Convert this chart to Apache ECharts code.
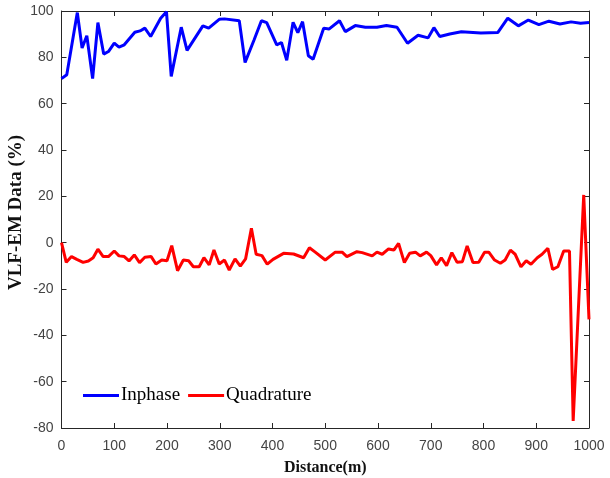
<!DOCTYPE html>
<html>
<head>
<meta charset="utf-8">
<script src="https://cdn.jsdelivr.net/npm/echarts@6/dist/echarts.min.js"></script>
<style>
  html, body { margin: 0; padding: 0; background: #fff; }
  #chart { width: 610px; height: 478px; }
</style>
</head>
<body>
<div id="chart"></div>
<script>
// VLF-EM survey profile: inphase and quadrature components along the line
const inphaseDist = [0, 10, 30, 39, 48, 59, 69, 80, 89, 100, 109, 119, 139, 149, 158, 169, 188, 199, 208, 227,
  238, 268, 279, 299, 309, 337, 348, 365, 379, 389, 408, 417, 427, 439, 448, 457, 468, 477, 497, 507,
  527, 538, 557, 576, 598, 616, 636, 656, 676, 695, 706, 717, 736, 758, 795, 827, 846, 866, 885, 905,
  924, 945, 966, 984, 1000];
const inphaseVal = [70.8, 72.5, 99.3, 84.0, 89.3, 70.8, 95.0, 81.4, 82.5, 86.1, 84.4, 85.4, 90.8, 91.4, 92.6, 89.0, 96.9, 99.7, 71.8, 93.0,
  83.0, 93.6, 92.6, 96.4, 96.6, 95.8, 77.8, 87.5, 95.8, 95.0, 85.4, 86.4, 78.7, 95.1, 90.7, 95.4, 80.7, 79.2, 92.6, 92.2,
  95.8, 91.1, 93.7, 93.0, 93.0, 93.7, 93.0, 86.1, 89.5, 88.4, 92.8, 89.0, 90.1, 91.0, 90.5, 90.7, 96.9, 93.6, 96.1, 94.1,
  95.6, 94.4, 95.3, 94.7, 95.0];

const quadDist = [0, 9, 19, 29, 41, 51, 60, 69, 79, 89, 100, 109, 119, 128, 138, 148, 158, 170, 179, 190,
  200, 209, 220, 231, 241, 250, 261, 270, 280, 289, 299, 309, 318, 329, 339, 349, 360, 369, 380, 390,
  401, 421, 440, 459, 470, 481, 500, 519, 532, 541, 560, 570, 589, 598, 608, 620, 630, 639, 650, 660,
  671, 680, 692, 700, 711, 720, 730, 740, 750, 760, 769, 780, 791, 802, 810, 821, 832, 841, 851, 860,
  871, 881, 890, 902, 911, 922, 931, 941, 952, 963, 970, 990, 1000];
const quadVal = [0.0, -8.5, -6.0, -7.2, -8.5, -7.9, -6.5, -2.8, -6.0, -6.0, -3.6, -5.7, -6.0, -7.9, -5.3, -8.6, -6.3, -6.0, -9.2, -7.5,
  -7.8, -1.3, -12.1, -7.5, -7.8, -10.4, -10.4, -6.5, -9.6, -3.2, -9.2, -7.5, -11.8, -7.0, -10.1, -7.0, 6.2, -5.0, -5.6, -9.3,
  -7.2, -4.6, -4.9, -6.5, -2.2, -4.1, -7.5, -4.1, -4.1, -6.0, -3.9, -4.3, -5.7, -4.1, -5.0, -2.7, -3.2, -0.3, -8.6, -4.6,
  -4.1, -5.7, -4.1, -5.6, -9.6, -6.5, -9.9, -4.3, -8.5, -8.2, -1.4, -8.6, -8.5, -4.1, -4.1, -7.5, -8.9, -7.5, -3.2, -5.0,
  -10.4, -7.8, -9.3, -6.5, -5.0, -2.4, -11.5, -10.4, -3.6, -3.6, -77.0, 20.6, -33.1];

const xTicks = [0, 100, 200, 300, 400, 500, 600, 700, 800, 900, 1000];
const yTicks = [-80, -60, -40, -20, 0, 20, 40, 60, 80, 100];

const pairs = (xs, ys) => xs.map((x, i) => [x, ys[i]]);

const axisColor = '#262626';
const tickFont = { fontFamily: 'Liberation Sans, Arial, sans-serif', fontSize: 14, color: '#444' };
const serif = 'Liberation Serif, Times New Roman, serif';

const baseX = {
  type: 'value', min: 0, max: 1000, interval: 100,
  axisLine: { show: true, onZero: false, lineStyle: { color: axisColor, width: 1 } },
  axisTick: { show: true, inside: true, length: 5, lineStyle: { color: axisColor } },
  splitLine: { show: false }
};
const baseY = {
  type: 'value', min: -80, max: 100, interval: 20,
  axisLine: { show: true, onZero: false, lineStyle: { color: axisColor, width: 1 } },
  axisTick: { show: true, inside: true, length: 5, lineStyle: { color: axisColor } },
  splitLine: { show: false }
};

const chart = echarts.init(document.getElementById('chart'), null, { renderer: 'canvas' });
chart.setOption({
  animation: false,
  backgroundColor: '#fff',
  grid: { left: 61.5, right: 21, top: 11, bottom: 50, containLabel: false, outerBoundsMode: 'none' },
  legend: {
    left: 78, top: 381,
    icon: 'rect', itemWidth: 36, itemHeight: 3, itemGap: 8,
    textStyle: { fontFamily: serif, fontSize: 19, color: '#000', padding: [0, 0, 0, -3] },
    data: ['Inphase', 'Quadrature']
  },
  xAxis: [
    Object.assign({}, baseX, {
      position: 'bottom',
      axisLabel: Object.assign({ margin: 11, formatter: v => xTicks.includes(v) ? String(v) : '' }, tickFont),
      name: 'Distance(m)', nameLocation: 'middle', nameGap: 32,
      nameTextStyle: { fontFamily: serif, fontSize: 16, fontWeight: 'bold', color: '#111' }
    }),
    Object.assign({}, baseX, { position: 'top', axisLabel: { show: false } })
  ],
  yAxis: [
    Object.assign({}, baseY, {
      position: 'left',
      axisLabel: Object.assign({ margin: 8, formatter: v => yTicks.includes(v) ? String(v) : '' }, tickFont),
      name: 'VLF-EM Data (%)', nameLocation: 'middle', nameGap: 36, nameMoveOverlap: false,
      nameTextStyle: { fontFamily: serif, fontSize: 19, fontWeight: 'bold', color: '#111', padding: [0, 0, 0, 14] }
    }),
    Object.assign({}, baseY, { position: 'right', axisLabel: { show: false } })
  ],
  series: [
    {
      name: 'Inphase', type: 'line', xAxisIndex: 0, yAxisIndex: 0,
      data: pairs(inphaseDist, inphaseVal),
      symbol: 'none', color: '#0000ff',
      lineStyle: { color: '#0000ff', width: 3 }
    },
    {
      name: 'Quadrature', type: 'line', xAxisIndex: 0, yAxisIndex: 0,
      data: pairs(quadDist, quadVal),
      symbol: 'none', color: '#ff0000',
      lineStyle: { color: '#ff0000', width: 3 }
    }
  ]
});
</script>
</body>
</html>
